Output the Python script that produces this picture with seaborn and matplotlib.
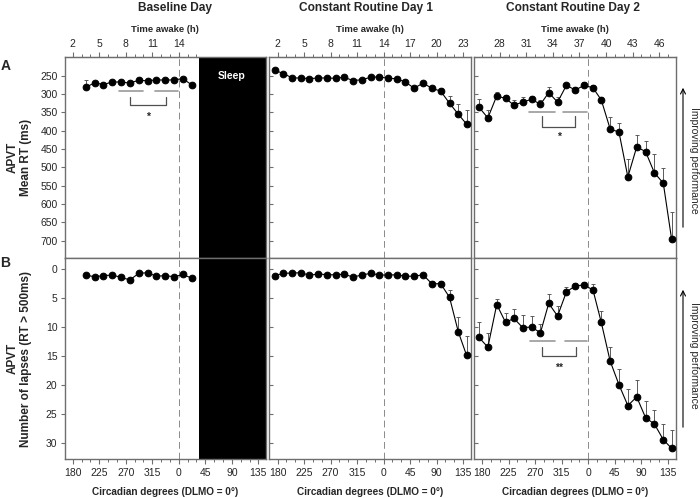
import numpy as np
import pandas as pd
import matplotlib
matplotlib.use("Agg")
import matplotlib.pyplot as plt
import seaborn as sns
from matplotlib.ticker import FixedLocator, MultipleLocator, FuncFormatter

# circadian phase in degrees, unwrapped (360 = DLMO = 0 deg)
BL_DEG = [202, 217, 232, 247, 262, 277, 292, 307, 322, 337, 352, 367, 382]
CR_DEG = [175, 190, 205, 220, 234, 249, 264, 279, 293, 308, 323, 338, 353,
          368, 382, 397, 412, 427, 442, 457, 472, 487, 501]

# APVT mean RT (ms) and SEM
BL_RT = [282, 269, 274, 267, 267, 270, 262, 264, 261, 262, 261, 258, 275]
BL_RT_ERR = [20, 5, 5, 4, 4, 5, 4, 4, 4, 4, 4, 4, 6]
CR1_RT = [235, 244, 256, 256, 258, 256, 256, 257, 254, 263, 261, 254, 253,
          257, 258, 267, 284, 270, 284, 292, 325, 355, 382]
CR1_RT_ERR = [4, 4, 4, 4, 4, 4, 4, 4, 4, 4, 4, 4, 4,
              4, 4, 5, 6, 5, 6, 8, 20, 28, 38]
CR2_RT = [336, 365, 305, 312, 330, 322, 314, 328, 296, 322, 276, 289, 276,
          283, 316, 395, 404, 526, 444, 457, 515, 543, 695]
CR2_RT_ERR = [23, 22, 11, 10, 13, 13, 10, 12, 15, 15, 5, 7, 9,
              7, 9, 33, 24, 50, 33, 29, 52, 40, 73]

# APVT number of lapses (RT > 500 ms) and SEM
BL_LAPSE = [1.0, 1.3, 1.1, 1.0, 1.4, 1.85, 0.7, 0.6, 1.2, 1.1, 1.3, 0.9, 1.55]
BL_LAPSE_ERR = [0.3, 0.2, 0.2, 0.2, 0.3, 0.3, 0.2, 0.2, 0.2, 0.2, 0.2, 0.2, 0.3]
CR1_LAPSE = [1.1, 0.7, 0.65, 0.6, 1.05, 0.8, 0.95, 0.95, 0.85, 1.35, 1.0, 0.7, 1.0,
             1.0, 0.95, 1.2, 1.2, 0.95, 2.5, 2.5, 4.85, 10.85, 14.9]
CR1_LAPSE_ERR = [0.2, 0.2, 0.2, 0.2, 0.2, 0.2, 0.2, 0.2, 0.2, 0.2, 0.2, 0.2, 0.2,
                 0.2, 0.2, 0.2, 0.2, 0.2, 0.4, 0.4, 1.3, 2.6, 3.3]
CR2_LAPSE = [11.8, 13.5, 6.1, 9.2, 8.5, 10.1, 10.0, 11.0, 5.9, 8.1, 3.9, 2.9, 2.7,
             3.6, 9.2, 15.9, 20.0, 23.6, 22.1, 25.7, 26.8, 29.5, 31.0]
CR2_LAPSE_ERR = [2.7, 2.4, 0.9, 1.7, 1.7, 2.1, 1.9, 1.5, 1.7, 1.7, 0.9, 0.6, 0.5,
                 1.0, 1.9, 2.5, 2.8, 2.8, 2.9, 2.9, 2.5, 2.7, 3.1]

PANEL_TITLES = ["Baseline Day", "Constant Routine Day 1", "Constant Routine Day 2"]
TIME_LABELS = [[2, 5, 8, 11, 14],
               [2, 5, 8, 11, 14, 17, 20, 23],
               [28, 31, 34, 37, 40, 43, 46]]
TIME_MINOR = [list(range(1, 17)), list(range(1, 25)), list(range(25, 49))]
DAY_OFFSET = [0, 0, 24]
DEG_TICKS = [180, 225, 270, 315, 360, 405, 450, 495]
RT_TICKS = [250, 300, 350, 400, 450, 500, 550, 600, 650, 700]
LAPSE_TICKS = [0, 5, 10, 15, 20, 25, 30]

XLIM = (166, 508)
RT_LIM = (748, 198)
LAPSE_LIM = (32.9, -1.9)
SLEEP_START = 395

SPINE = "#6e6e6e"

sns.set_style("ticks")
plt.rcParams["font.family"] = ["Liberation Sans Narrow", "Liberation Sans", "DejaVu Sans"]

fig = plt.figure(figsize=(7, 4.98), dpi=100)
W, H = 700, 498


def add_ax(x0, y0, x1, y1):
    return fig.add_axes([x0 / W, 1 - y1 / H, (x1 - x0) / W, (y1 - y0) / H])


cols = [(64.5, 266), (269.3, 470.7), (473.7, 675.7)]
rows = [(56.7, 258.3), (258.3, 459.3)]

series = {
    (0, 0): (BL_DEG, BL_RT, BL_RT_ERR),
    (0, 1): (CR_DEG, CR1_RT, CR1_RT_ERR),
    (0, 2): (CR_DEG, CR2_RT, CR2_RT_ERR),
    (1, 0): (BL_DEG, BL_LAPSE, BL_LAPSE_ERR),
    (1, 1): (CR_DEG, CR1_LAPSE, CR1_LAPSE_ERR),
    (1, 2): (CR_DEG, CR2_LAPSE, CR2_LAPSE_ERR),
}

axes = {}
for r, (y0, y1) in enumerate(rows):
    for c, (x0, x1) in enumerate(cols):
        ax = add_ax(x0, y0, x1, y1)
        axes[(r, c)] = ax
        deg, val, err = series[(r, c)]
        df = pd.DataFrame({"deg": deg, "val": val, "err": err})

        ax.axvline(360, color="#8a8a8a", lw=0.7, ls=(0, (7, 4)), zorder=1)
        if c == 0:
            ax.axvspan(SLEEP_START, 520, color="black", lw=0, zorder=0.5)

        ax.errorbar(df["deg"], df["val"], yerr=[df["err"], np.zeros(len(df))],
                    fmt="none", ecolor="#5a5a5a", elinewidth=0.7,
                    capsize=1.3, capthick=0.7, zorder=2)
        sns.lineplot(data=df, x="deg", y="val", ax=ax, color="black", lw=0.8,
                     marker="o", markersize=4.8, markeredgecolor="black",
                     errorbar=None, zorder=3)

        ax.set_xlim(*XLIM)
        if r == 0:
            ax.set_ylim(*RT_LIM)
            ax.set_yticks(RT_TICKS)
        else:
            ax.set_ylim(*LAPSE_LIM)
            ax.set_yticks(LAPSE_TICKS)
        ax.set_xlabel("")
        ax.set_ylabel("")

        for s in ax.spines.values():
            s.set_color(SPINE)
            s.set_linewidth(1.0)
            s.set_visible(True)

        if c == 0:
            ax.tick_params(axis="y", direction="out", length=3, width=0.8,
                           color=SPINE, labelsize=7.5, pad=2)
        else:
            ax.tick_params(axis="y", direction="in", length=3, width=0.8,
                           color=SPINE, labelleft=False)

        if r == 0:
            ax.tick_params(axis="x", bottom=False, labelbottom=False)
            off = DAY_OFFSET[c]
            sec = ax.secondary_xaxis(
                "top",
                functions=(lambda d, o=off: o + 2 + (d - 180) / 15.0,
                           lambda h, o=off: 180 + (h - 2 - o) * 15.0))
            sec.xaxis.set_major_locator(FixedLocator(TIME_LABELS[c]))
            sec.xaxis.set_minor_locator(FixedLocator(TIME_MINOR[c]))
            sec.tick_params(which="major", direction="out", length=3.5, width=0.8,
                            color=SPINE, labelsize=7.5, pad=2)
            sec.tick_params(which="minor", direction="out", length=2.2, width=0.7,
                            color=SPINE)
            sec.spines["top"].set_color(SPINE)
            sec.set_xlabel("Time awake (h)", fontsize=6.8, fontweight="bold", labelpad=5)
        else:
            ax.set_xticks(DEG_TICKS)
            ax.xaxis.set_minor_locator(MultipleLocator(15))
            ax.xaxis.set_major_formatter(FuncFormatter(lambda v, p: f"{int(round(v)) % 360}"))
            ax.tick_params(axis="x", which="major", direction="out", length=3.5,
                           width=0.8, color=SPINE, labelsize=7.5, pad=3)
            ax.tick_params(axis="x", which="minor", direction="out", length=2.2,
                           width=0.7, color=SPINE)
            ax.set_xlabel("Circadian degrees (DLMO = 0°)", fontsize=7.2,
                          fontweight="bold", labelpad=6)


def sig_bracket(ax, seg1, seg2, y_line, x_br, y_br, y_star, star):
    ax.plot(seg1, [y_line, y_line], color="#9a9a9a", lw=1.2, zorder=2)
    ax.plot(seg2, [y_line, y_line], color="#9a9a9a", lw=1.2, zorder=2)
    ax.plot([x_br[0], x_br[0], x_br[1], x_br[1]], [y_br[0], y_br[1], y_br[1], y_br[0]],
            color="#505050", lw=0.9, zorder=2)
    ax.text(sum(x_br) / 2, y_star, star, ha="center", va="center", fontsize=7.5,
            fontweight="bold")


sig_bracket(axes[(0, 0)], [258, 299], [319, 358], 291, (277, 338), (307, 331), 362, "*")
sig_bracket(axes[(0, 2)], [260, 303], [318, 358], 348, (282, 338), (360, 389), 417, "*")
sig_bracket(axes[(1, 2)], [262, 304], [321, 358], 12.35, (281, 340), (13.4, 15.0), 17.0, "**")

axes[(0, 0)].text(449, 250, "Sleep", color="white", fontsize=7.5, fontweight="bold",
                  ha="center", va="center", zorder=4)

for r, label in [(0, "APVT\nMean RT (ms)"), (1, "APVT\nNumber of lapses (RT > 500ms)")]:
    a = axes[(r, 0)]
    a.set_ylabel(label, fontsize=8.5, fontweight="bold", linespacing=1.2)
    a.yaxis.label.set_va("center")
    a.yaxis.set_label_coords(-0.225, 0.5)

for title, xc in zip(PANEL_TITLES, [175, 366, 573]):
    fig.text(xc / W, 1 - 7.5 / H, title, fontsize=8.6, fontweight="bold",
             ha="center", va="center")

fig.text(5.5 / W, 1 - 66 / H, "A", fontsize=10, fontweight="bold", ha="center", va="center")
fig.text(5.5 / W, 1 - 263 / H, "B", fontsize=10, fontweight="bold", ha="center", va="center")

# "Improving performance" arrows on the right
for (y_tail, y_head, y_text) in [(230, 85, 160), (430, 287, 355)]:
    fig.add_artist(matplotlib.patches.FancyArrowPatch(
        (683 / W, 1 - y_tail / H), (683 / W, 1 - y_head / H),
        transform=fig.transFigure, arrowstyle="->", mutation_scale=9,
        lw=0.8, color="black"))
    fig.text(694 / W, 1 - y_text / H, "Improving performance", fontsize=7.5,
             rotation=-90, ha="center", va="center")

fig.savefig("out.png", dpi=100)
